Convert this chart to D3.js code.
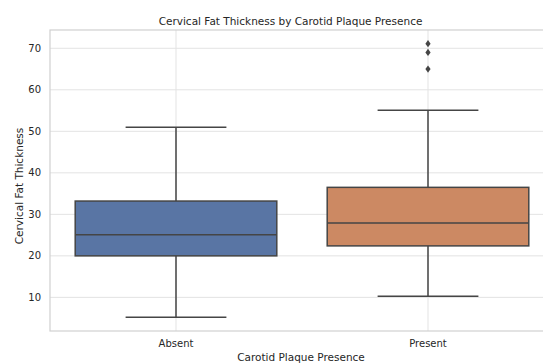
<!DOCTYPE html>
<html>
<head>
<meta charset="utf-8">
<script src="https://cdn.jsdelivr.net/npm/d3@7"></script>
<style>
  html, body { margin: 0; padding: 0; background: #fff; overflow: hidden; }
  svg { display: block; font-family: "DejaVu Sans", sans-serif; }
</style>
</head>
<body>
<svg id="chart" width="543" height="363"></svg>
<script>
// values
const categories = ['Absent', 'Present'];
const whiskerLow = [5.2, 10.3];
const q1 = [20.0, 22.4];
const median = [25.1, 27.9];
const q3 = [33.2, 36.5];
const whiskerHigh = [51.0, 55.1];
const outliers = [[], [65.0, 69.0, 71.1]];
const yTicks = [10, 20, 30, 40, 50, 60, 70];
const fills = ['#5975a4', '#cc8963'];

// plot area: the right part is cut off by the picture edge
const plotLeft = 50, plotRight = 554, plotTop = 30, plotBottom = 331;
const lineColor = '#454545';

const svg = d3.select('#chart');

let x = d3.scaleBand()
  .domain(categories)
  .range([plotLeft, plotRight])
  .paddingInner(0.2)
  .paddingOuter(0.1);

let y = d3.scaleLinear()
  .domain([1.9, 74.4])
  .range([plotBottom, plotTop]);

// grid
svg.append('g')
  .selectAll('line')
  .data(yTicks)
  .join('line')
  .attr('x1', plotLeft).attr('x2', plotRight)
  .attr('y1', d => y(d)).attr('y2', d => y(d))
  .attr('stroke', '#e3e3e3').attr('stroke-width', 1);

svg.append('g')
  .selectAll('line')
  .data(categories)
  .join('line')
  .attr('x1', d => x(d) + x.bandwidth() / 2).attr('x2', d => x(d) + x.bandwidth() / 2)
  .attr('y1', plotTop).attr('y2', plotBottom)
  .attr('stroke', '#e3e3e3').attr('stroke-width', 1);

// spines
svg.append('rect')
  .attr('x', plotLeft).attr('y', plotTop)
  .attr('width', plotRight - plotLeft).attr('height', plotBottom - plotTop)
  .attr('fill', 'none').attr('stroke', '#d0d0d0').attr('stroke-width', 1.2);

// y tick labels
svg.append('g')
  .selectAll('text')
  .data(yTicks)
  .join('text')
  .attr('x', plotLeft - 9)
  .attr('y', d => y(d))
  .attr('dy', '0.35em')
  .attr('text-anchor', 'end')
  .attr('font-size', 10)
  .attr('fill', '#262626')
  .text(d => d);

// x tick labels
svg.append('g')
  .selectAll('text')
  .data(categories)
  .join('text')
  .attr('x', d => x(d) + x.bandwidth() / 2)
  .attr('y', plotBottom + 12)
  .attr('dy', '0.35em')
  .attr('text-anchor', 'middle')
  .attr('font-size', 10)
  .attr('fill', '#262626')
  .text(d => d);

// boxes
let boxes = svg.append('g')
  .selectAll('g')
  .data(categories)
  .join('g');

boxes.each(function(c, i) {
  let g = d3.select(this);
  let cx = x(c) + x.bandwidth() / 2;
  let bw = x.bandwidth();

  // whiskers
  g.append('line')
    .attr('x1', cx).attr('x2', cx)
    .attr('y1', y(q3[i])).attr('y2', y(whiskerHigh[i]))
    .attr('stroke', lineColor).attr('stroke-width', 1.5);
  g.append('line')
    .attr('x1', cx).attr('x2', cx)
    .attr('y1', y(q1[i])).attr('y2', y(whiskerLow[i]))
    .attr('stroke', lineColor).attr('stroke-width', 1.5);
  [whiskerLow[i], whiskerHigh[i]].forEach(v => {
    g.append('line')
      .attr('x1', cx - bw / 4).attr('x2', cx + bw / 4)
      .attr('y1', y(v)).attr('y2', y(v))
      .attr('stroke', lineColor).attr('stroke-width', 1.5);
  });

  g.append('rect')
    .attr('x', x(c)).attr('y', y(q3[i]))
    .attr('width', bw).attr('height', y(q1[i]) - y(q3[i]))
    .attr('fill', fills[i])
    .attr('stroke', lineColor).attr('stroke-width', 1.5);

  g.append('line')
    .attr('x1', x(c)).attr('x2', x(c) + bw)
    .attr('y1', y(median[i])).attr('y2', y(median[i]))
    .attr('stroke', lineColor).attr('stroke-width', 1.5);

  // outliers as small diamonds
  g.selectAll('path.out')
    .data(outliers[i])
    .join('path')
    .attr('class', 'out')
    .attr('transform', d => `translate(${cx},${y(d)})`)
    .attr('d', 'M0,-3.6L2.6,0L0,3.6L-2.6,0Z')
    .attr('fill', lineColor);
});

// title and axis labels
svg.append('text')
  .attr('x', 290.5).attr('y', 21)
  .attr('dy', '0.35em')
  .attr('text-anchor', 'middle')
  .attr('font-size', 10.5)
  .attr('fill', '#262626')
  .text('Cervical Fat Thickness by Carotid Plaque Presence');

svg.append('text')
  .attr('x', 301).attr('y', 357)
  .attr('dy', '0.35em')
  .attr('text-anchor', 'middle')
  .attr('font-size', 10.5)
  .attr('fill', '#262626')
  .text('Carotid Plaque Presence');

svg.append('text')
  .attr('transform', 'translate(19,186) rotate(-90)')
  .attr('dy', '0.35em')
  .attr('text-anchor', 'middle')
  .attr('font-size', 10.5)
  .attr('fill', '#262626')
  .text('Cervical Fat Thickness');
</script>
</body>
</html>
